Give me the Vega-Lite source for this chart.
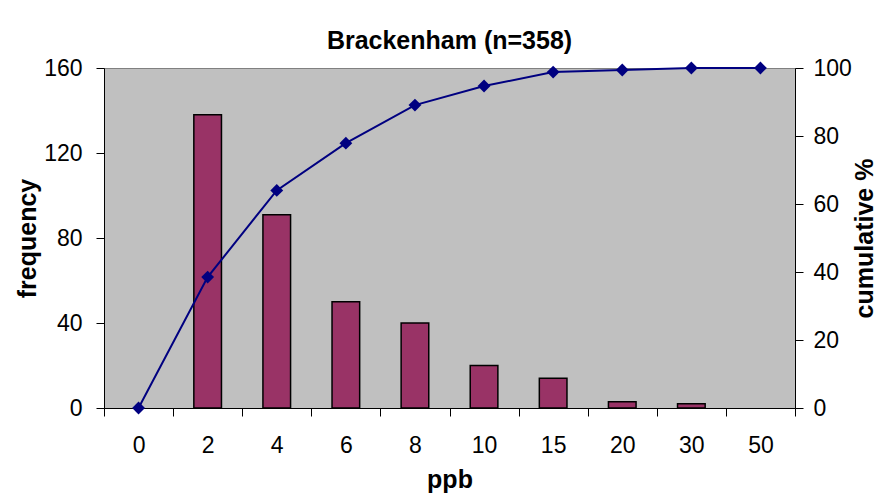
{
  "$schema": "https://vega.github.io/schema/vega-lite/v6.json",
  "width": 691,
  "height": 340,
  "autosize": {"type": "none"},
  "padding": {"left": 104, "top": 68, "right": 83, "bottom": 94},
  "background": "white",
  "title": {
    "text": "Brackenham (n=358)",
    "font": "Liberation Sans",
    "fontSize": 25,
    "fontWeight": "bold",
    "color": "black",
    "frame": "group",
    "anchor": "middle",
    "baseline": "alphabetic",
    "offset": 19,
    "dy": 36
  },
  "data": {
    "values": [
      {"ppb": 0, "frequency": 0, "cumulative": 0},
      {"ppb": 2, "frequency": 138, "cumulative": 38.5},
      {"ppb": 4, "frequency": 91, "cumulative": 64.0},
      {"ppb": 6, "frequency": 50, "cumulative": 77.9},
      {"ppb": 8, "frequency": 40, "cumulative": 89.1},
      {"ppb": 10, "frequency": 20, "cumulative": 94.7},
      {"ppb": 15, "frequency": 14, "cumulative": 98.8},
      {"ppb": 20, "frequency": 3, "cumulative": 99.4},
      {"ppb": 30, "frequency": 2, "cumulative": 100},
      {"ppb": 50, "frequency": 0, "cumulative": 100}
    ]
  },
  "encoding": {
    "x": {
      "field": "ppb",
      "type": "ordinal",
      "scale": {"paddingInner": 0, "paddingOuter": 0},
      "axis": {
        "title": "ppb",
        "labelAngle": 0,
        "tickBand": "extent",
        "tickSize": 8,
        "labelPadding": 18,
        "titlePadding": 10,
        "titleBaseline": "top"
      }
    }
  },
  "layer": [
    {
      "transform": [{"filter": "datum.frequency > 0"}],
      "mark": {
        "type": "bar",
        "color": "#993366",
        "stroke": "black",
        "strokeWidth": 1.5,
        "width": {"band": 0.4}
      },
      "encoding": {
        "y": {
          "field": "frequency",
          "type": "quantitative",
          "scale": {"domain": [0, 160], "nice": false},
          "axis": {
            "orient": "left",
            "title": "frequency",
            "values": [0, 40, 80, 120, 160],
            "tickSize": 8,
            "labelPadding": 14,
            "titlePadding": 3
          }
        }
      }
    },
    {
      "mark": {
        "type": "line",
        "color": "#000080",
        "strokeWidth": 2,
        "point": {"shape": "diamond", "size": 165, "filled": true, "color": "#000080"}
      },
      "encoding": {
        "y": {
          "field": "cumulative",
          "type": "quantitative",
          "scale": {"domain": [0, 100], "nice": false},
          "axis": {
            "orient": "right",
            "title": "cumulative %",
            "values": [0, 20, 40, 60, 80, 100],
            "tickSize": 8,
            "labelPadding": 10,
            "titlePadding": 1,
            "titleAngle": 270,
            "titleBaseline": "top"
          }
        }
      }
    }
  ],
  "resolve": {"scale": {"y": "independent"}},
  "config": {
    "view": {"fill": "#C0C0C0", "stroke": "#808080"},
    "axis": {
      "grid": false,
      "domainColor": "black",
      "domainWidth": 1,
      "tickColor": "black",
      "tickWidth": 1,
      "labelFont": "Liberation Sans",
      "labelFontSize": 23,
      "labelColor": "black",
      "titleFont": "Liberation Sans",
      "titleFontSize": 25,
      "titleFontWeight": "bold",
      "titleColor": "black"
    }
  }
}
